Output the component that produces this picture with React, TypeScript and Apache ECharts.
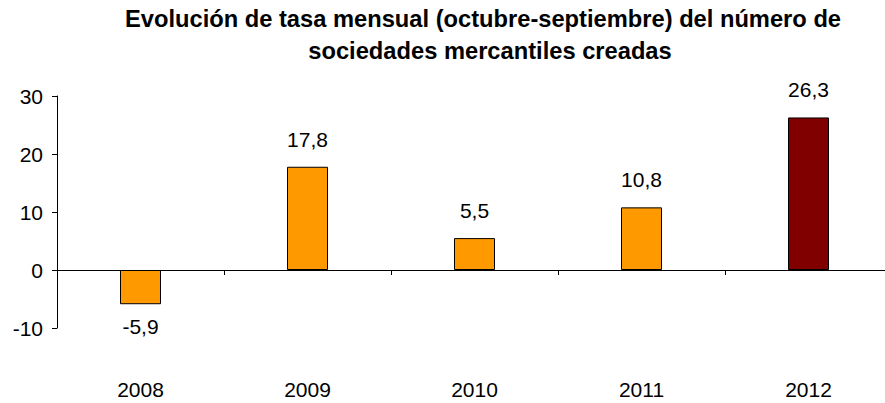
import React, { useEffect, useRef } from "react";
import * as echarts from "echarts";

const categories = ["2008", "2009", "2010", "2011", "2012"];
const values = [-5.9, 17.8, 5.5, 10.8, 26.3];
const barColors = ["#FF9900", "#FF9900", "#FF9900", "#FF9900", "#800000"];
const yTicks = { min: -10, max: 30, interval: 10 };
const titleLines = [
  "Evolución de tasa mensual (octubre-septiembre) del número de",
  "sociedades mercantiles creadas",
];

export default function App() {
  const ref = useRef<HTMLDivElement>(null);
  useEffect(() => {
    const chart = echarts.init(ref.current!, undefined, { renderer: "svg" });
    const font = "'Liberation Sans', Arial, sans-serif";
    const titleX = [483, 490];
    const titleY = [18.5, 50.8];
    chart.setOption({
      animation: false,
      backgroundColor: "#ffffff",
      graphic: titleLines.map((t, i) => ({
        type: "text",
        x: titleX[i],
        y: titleY[i],
        style: {
          text: t,
          textAlign: "center",
          textVerticalAlign: "middle",
          fontFamily: font,
          fontWeight: "bold",
          fontSize: 23.7,
          fill: "#000",
        },
      })),
      grid: { left: 57, top: 96, width: 835, height: 232, containLabel: false },
      xAxis: [
        {
          type: "category",
          data: categories,
          axisLine: { onZero: true, lineStyle: { color: "#000", width: 1 } },
          axisTick: { show: true, alignWithLabel: false, length: 5, lineStyle: { color: "#000" } },
          axisLabel: { show: false },
        },
        {
          type: "category",
          data: categories,
          position: "bottom",
          axisLine: { show: false, onZero: false },
          axisTick: { show: false },
          axisLabel: { show: true, margin: 51, fontFamily: font, fontSize: 21, color: "#000" },
        },
      ],
      yAxis: {
        type: "value",
        min: yTicks.min,
        max: yTicks.max,
        interval: yTicks.interval,
        axisLine: { show: true, lineStyle: { color: "#000", width: 1 } },
        axisTick: { show: true, length: 5, lineStyle: { color: "#000" } },
        splitLine: { show: false },
        axisLabel: { fontFamily: font, fontSize: 21, color: "#000", margin: 14 },
      },
      series: [
        {
          type: "bar",
          xAxisIndex: 0,
          barWidth: 41,
          data: values.map((v, i) => ({
            value: v,
            itemStyle: { color: barColors[i], borderColor: "#000", borderWidth: 1 },
            label: { distance: v < 0 ? 12 : 17 },
          })),
          label: {
            show: true,
            position: "outside",
            fontFamily: font,
            fontSize: 21,
            color: "#000",
            formatter: (p: any) => String(p.value).replace(".", ","),
          },
        },
      ],
    });
    return () => chart.dispose();
  }, []);
  return (
    <div style={{ width: 885, height: 403, position: "absolute", left: 0, top: 0, overflow: "hidden", background: "#fff" }}>
      <div ref={ref} style={{ width: 900, height: 403 }} />
    </div>
  );
}
